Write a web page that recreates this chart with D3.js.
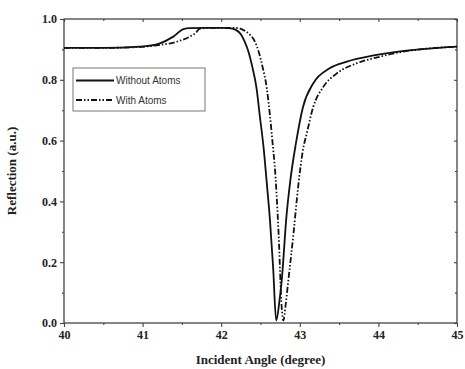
<!DOCTYPE html>
<html><head><meta charset="utf-8">
<script src="https://cdn.jsdelivr.net/npm/d3@7"></script>
<style>body{margin:0;background:#fff}</style>
</head><body>
<script>
const xTicks = [40, 41, 42, 43, 44, 45];
const yTicks = [0.0, 0.2, 0.4, 0.6, 0.8, 1.0];
const seriesNames = ["Without Atoms", "With Atoms"];
const angleWithout = [40.0,40.5,40.97,41.22,41.39,41.52,41.6,41.8,42.0,42.1,42.18,42.25,42.30,42.35,42.39,42.45,42.49,42.54,42.58,42.62,42.66,42.70,42.74,42.77,42.83,42.88,42.95,43.04,43.17,43.38,43.60,43.94,44.23,44.6,45.0];
const reflWithout = [0.905,0.905,0.909,0.920,0.942,0.967,0.970,0.971,0.971,0.970,0.965,0.950,0.925,0.890,0.849,0.772,0.684,0.575,0.460,0.340,0.185,0.008,0.070,0.140,0.350,0.470,0.590,0.710,0.788,0.838,0.860,0.880,0.892,0.902,0.909];
const angleWith = [40.0,40.5,40.97,41.22,41.43,41.6,41.67,41.73,41.85,42.1,42.22,42.28,42.36,42.43,42.48,42.52,42.58,42.62,42.66,42.68,42.73,42.77,42.79,42.82,42.85,42.92,42.98,43.04,43.09,43.17,43.30,43.47,43.72,44.02,44.3,44.6,45.0];
const reflWith = [0.905,0.905,0.908,0.915,0.925,0.942,0.953,0.968,0.971,0.971,0.970,0.964,0.950,0.925,0.890,0.849,0.772,0.684,0.575,0.520,0.295,0.050,0.008,0.060,0.130,0.295,0.450,0.569,0.625,0.710,0.777,0.821,0.854,0.876,0.892,0.902,0.909];

const W = 465, H = 369;
const m = {l: 64, r: 8, t: 19, b: 46};
const svg = d3.select("body").append("svg").attr("width", W).attr("height", H);
const x = d3.scaleLinear().domain([40, 45]).range([m.l, W - m.r]);
const y = d3.scaleLinear().domain([0, 1]).range([H - m.b, m.t]);
const axisColor = "#444";
const serif = "'Liberation Serif','Times New Roman',serif";

svg.append("rect").attr("x", x(40)).attr("y", y(1)).attr("width", x(45) - x(40)).attr("height", y(0) - y(1))
  .attr("fill", "none").attr("stroke", axisColor).attr("stroke-width", 1.3);

const xMinor = d3.range(40.5, 45, 1);
const yMinor = d3.range(0.1, 1.0, 0.2);

const gx = svg.append("g").attr("transform", `translate(0,${y(0)})`)
  .call(d3.axisBottom(x).tickValues(xTicks).tickFormat(d3.format("d")).tickSize(4).tickPadding(3));
gx.append("g").call(d3.axisBottom(x).tickValues(xMinor).tickSize(2).tickFormat(""));
const gy = svg.append("g").attr("transform", `translate(${x(40)},0)`)
  .call(d3.axisLeft(y).tickValues(yTicks).tickFormat(d3.format(".1f")).tickSize(4).tickPadding(3));
gy.append("g").call(d3.axisLeft(y).tickValues(yMinor).tickSize(2).tickFormat(""));
const gt = svg.append("g").attr("transform", `translate(0,${y(1)})`)
  .call(d3.axisBottom(x).tickValues(xTicks).tickSize(3).tickFormat(""));
gt.append("g").call(d3.axisBottom(x).tickValues(xMinor).tickSize(2).tickFormat(""));
const gr = svg.append("g").attr("transform", `translate(${x(45)},0)`)
  .call(d3.axisLeft(y).tickValues(yTicks).tickSize(3).tickFormat(""));
gr.append("g").call(d3.axisLeft(y).tickValues(yMinor).tickSize(2).tickFormat(""));

svg.selectAll(".domain").attr("stroke", "none");
svg.selectAll(".tick line").attr("stroke", axisColor).attr("stroke-width", 1.1);
svg.selectAll(".tick text").attr("font-family", serif).attr("font-weight", "bold")
  .attr("font-size", 12).attr("fill", "#222");

const line = d3.line().x(d => x(d[0])).y(d => y(d[1])).curve(d3.curveMonotoneX);
const d1 = angleWithout.map((a, i) => [a, reflWithout[i]]);
const d2 = angleWith.map((a, i) => [a, reflWith[i]]);
svg.append("path").datum(d1).attr("d", line).attr("fill", "none").attr("stroke", "#111").attr("stroke-width", 1.8);
const dashPat = "6,2,1.5,2,1.5,2";
svg.append("path").datum(d2).attr("d", line).attr("fill", "none").attr("stroke", "#111").attr("stroke-width", 1.8)
  .attr("stroke-dasharray", dashPat);

const lg = svg.append("g");
lg.append("rect").attr("x", 73).attr("y", 68).attr("width", 132).attr("height", 43)
  .attr("fill", "#fff").attr("stroke", "#777").attr("stroke-width", 1);
const legY = [80.5, 100];
lg.append("line").attr("x1", 76).attr("x2", 114).attr("y1", legY[0]).attr("y2", legY[0]).attr("stroke", "#111").attr("stroke-width", 1.8);
lg.append("line").attr("x1", 76).attr("x2", 114).attr("y1", legY[1]).attr("y2", legY[1]).attr("stroke", "#111").attr("stroke-width", 1.8).attr("stroke-dasharray", dashPat);
seriesNames.forEach((n, i) => {
  lg.append("text").attr("x", 116).attr("y", legY[i] + 3.5).text(n)
    .attr("font-family", "'Liberation Sans',Arial,sans-serif").attr("font-size", 10).attr("fill", "#333");
});

svg.append("text").attr("x", (x(40) + x(45)) / 2).attr("y", 364).attr("text-anchor", "middle")
  .attr("font-family", serif).attr("font-weight", "bold").attr("font-size", 13).attr("fill", "#222")
  .text("Incident Angle (degree)");
svg.append("text").attr("transform", `translate(16,${(y(0) + y(1)) / 2}) rotate(-90)`).attr("text-anchor", "middle")
  .attr("font-family", serif).attr("font-weight", "bold").attr("font-size", 13).attr("fill", "#222")
  .text("Reflection (a.u.)");
</script>
</body></html>
